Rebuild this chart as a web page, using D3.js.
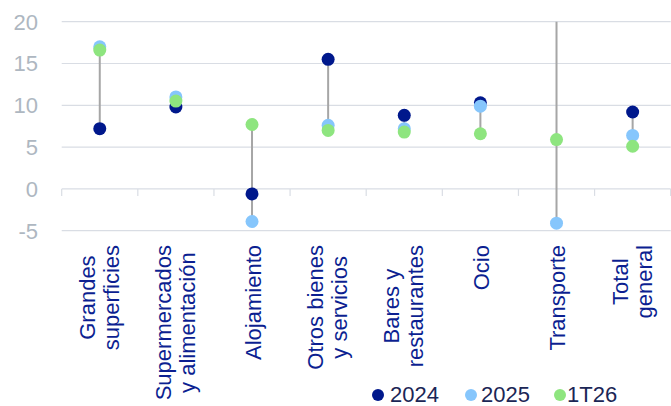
<!DOCTYPE html>
<html><head><meta charset="utf-8">
<script src="https://cdn.jsdelivr.net/npm/d3@7"></script>
<style>body{margin:0;background:#fff}svg{display:block;font-family:"Liberation Sans",Arial,sans-serif}</style>
</head><body>
<svg id="c" width="671" height="406"></svg>
<script>
const categories = ["Grandes\nsuperficies","Supermercados\ny alimentación","Alojamiento","Otros bienes\ny servicios","Bares y\nrestaurantes","Ocio","Transporte","Total\ngeneral"];
const s2024 = [7.2, 9.8, -0.6, 15.5, 8.8, 10.3, 35, 9.2];
const s2025 = [17.0, 11.0, -3.9, 7.6, 7.2, 9.9, -4.1, 6.4];
const s1T26 = [16.6, 10.5, 7.7, 7.0, 6.8, 6.6, 5.9, 5.1];
const seriesNames = ["2024","2025","1T26"];
const seriesColors = ["#00188c","#86c6fc","#8ee57f"];
const yTicks = [-5, 0, 5, 10, 15, 20];

const svg = d3.select("#c");
const x = d3.scaleBand().domain(d3.range(categories.length)).range([61.7, 670.7]);
const y = d3.scaleLinear().domain([-5, 20]).range([230.7, 21.7]);

// gridlines
svg.append("g").selectAll("line").data(yTicks.filter(t => t !== 0)).join("line")
  .attr("x1", 61.7).attr("x2", 670.7).attr("y1", d => y(d)).attr("y2", d => y(d))
  .attr("stroke", "#d9dde4").attr("stroke-width", 1.2);
// y tick labels
svg.append("g").selectAll("text").data(yTicks).join("text")
  .attr("x", 38).attr("y", d => y(d)).attr("dy", "0.36em").attr("text-anchor", "end")
  .attr("font-size", 22).attr("fill", "#aeb7c1").text(d => d);
// zero axis with ticks
svg.append("line").attr("x1", 61.7).attr("x2", 670.7).attr("y1", y(0)).attr("y2", y(0))
  .attr("stroke", "#d9dde4").attr("stroke-width", 1.2);
const bounds = d3.range(categories.length + 1).map(i => i < categories.length ? x(i) : x(i - 1) + x.bandwidth());
svg.append("g").selectAll("line").data(bounds).join("line")
  .attr("x1", d => d).attr("x2", d => d).attr("y1", y(0)).attr("y2", y(0) + 7)
  .attr("stroke", "#d9dde4").attr("stroke-width", 1.2);

svg.append("clipPath").attr("id", "clip").append("rect")
  .attr("x", 55).attr("y", y(20)).attr("width", 620).attr("height", 230);
const marks = svg.append("g").attr("clip-path", "url(#clip)");
const rows = categories.map((c, i) => ({i, vals: [s2024[i], s2025[i], s1T26[i]]}));
const cx = i => x(i) + x.bandwidth() / 2;
marks.selectAll("line").data(rows).join("line")
  .attr("x1", d => cx(d.i)).attr("x2", d => cx(d.i))
  .attr("y1", d => y(d3.max(d.vals))).attr("y2", d => y(d3.min(d.vals)))
  .attr("stroke", "#a6a6a6").attr("stroke-width", 2);
[s2024, s2025, s1T26].forEach((s, k) => {
  marks.append("g").selectAll("circle").data(s).join("circle")
    .attr("cx", (d, i) => cx(i)).attr("cy", d => y(d)).attr("r", 6.5)
    .attr("fill", seriesColors[k]);
});

// category labels
const lg = svg.append("g");
categories.forEach((c, i) => {
  const lines = c.split("\n");
  const n = lines.length;
  const g = lg.append("g").attr("transform", `translate(${cx(i)},245) rotate(-90)`);
  const texts = g.selectAll("text").data(lines).join("text")
    .attr("font-size", 22).attr("fill", "#0c1f91").text(d => d);
  const W = d3.max(texts.nodes(), t => t.getComputedTextLength());
  texts.attr("x", -W / 2).attr("text-anchor", "middle")
    .attr("y", (d, j) => n === 1 ? 8.5 : (j === 0 ? -5 : 19));
});

// legend
const legendX = [378, 471, 560];
const legendTX = [390, 481, 567];
seriesNames.forEach((s, k) => {
  svg.append("circle").attr("cx", legendX[k]).attr("cy", 395).attr("r", 6).attr("fill", seriesColors[k]);
  svg.append("text").attr("x", legendTX[k]).attr("y", 402).attr("font-size", 22)
    .attr("fill", "#1b2656").text(s);
});
</script>
</body></html>
